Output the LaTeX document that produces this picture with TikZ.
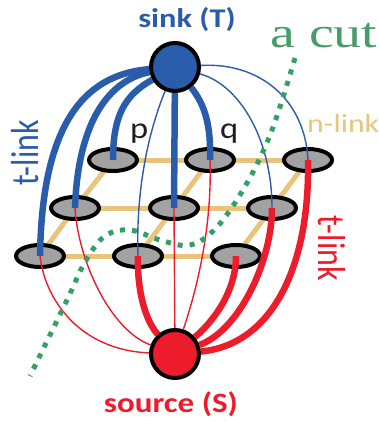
\documentclass[tikz,border=0pt]{standalone}
\usepackage{fontspec}
\setmainfont{Carlito}
\newfontfamily\cutfont{Liberation Serif}
\usetikzlibrary{shapes.geometric}

\definecolor{sinkblue}{RGB}{42,92,172}
\definecolor{srcred}{RGB}{236,28,44}
\definecolor{nlinktan}{RGB}{232,196,124}
\definecolor{cutgreen}{RGB}{52,160,100}
\definecolor{cuttext}{RGB}{72,156,106}
\definecolor{pixgray}{RGB}{162,162,162}
\definecolor{pqtext}{RGB}{30,30,30}

\pgfdeclarelayer{background}
\pgfdeclarelayer{front}
\pgfsetlayers{background,main,front}

\begin{document}
\begin{tikzpicture}[x=1pt,y=-1pt,
  terminal/.style={circle, draw=black, line width=4pt, minimum size=48pt, inner sep=0pt},
  pixel/.style={ellipse, draw=black, line width=4pt, fill=pixgray,
                minimum width=48pt, minimum height=22pt, inner sep=0pt},
  nlink/.style={draw=nlinktan, line width=5pt},
  tthick/.style={line width=6.5pt},
  tthin/.style={line width=1.4pt},
  tosink/.style={draw=sinkblue},
  fromsrc/.style={draw=srcred},
  cutline/.style={draw=cutgreen, line width=5pt, dash pattern=on 5pt off 7pt},
  lbl/.style={inner sep=0pt, anchor=base}]

\useasboundingbox (0,0) rectangle (379,422);

% 3x3 grid of pixels
\node[pixel] (a1) at (113,160) {};
\node[pixel] (a2) at (210,160) {};
\node[pixel] (a3) at (308,160) {};
\node[pixel] (b1) at (75,208) {};
\node[pixel] (b2) at (174,208) {};
\node[pixel] (b3) at (272,208) {};
\node[pixel] (c1) at (40,256) {};
\node[pixel] (c2) at (138,256) {};
\node[pixel] (c3) at (236,256) {};

% terminals
\begin{pgfonlayer}{front}
\node[terminal, fill=sinkblue] (T) at (175,67) {};
\node[terminal, fill=srcred] (S) at (175,354) {};
\end{pgfonlayer}

% n-links between neighbouring pixels
\begin{pgfonlayer}{background}
\draw[nlink] (a1.center) -- (a2.center) -- (a3.center);
\draw[nlink] (b1.center) -- (b2.center) -- (b3.center);
\draw[nlink] (c1.center) -- (c2.center) -- (c3.center);
\draw[nlink] (a1.center) -- (b1.center) -- (c1.center);
\draw[nlink] (a2.center) -- (b2.center) -- (c2.center);
\draw[nlink] (a3.center) -- (b3.center) -- (c3.center);
\end{pgfonlayer}

% t-links to the sink
\draw[tosink, tthick] (T) .. controls (80,75) and (42,130) .. (c1.center);
\draw[tosink, tthick] (T) .. controls (110,80) and (78,120) .. (b1.center);
\draw[tosink, tthick] (T) .. controls (125,95) and (113,115) .. (a1.center);
\draw[tosink, tthin]  (T) .. controls (145,140) and (136,200) .. (c2.center);
\draw[tosink, tthick] (T) -- (b2.center);
\draw[tosink, tthick] (T) .. controls (205,105) and (211,125) .. (a2.center);
\draw[tosink, tthin]  (T) .. controls (240,85) and (272,140) .. (b3.center);
\draw[tosink, tthin]  (T) .. controls (260,62) and (305,100) .. (a3.center);

% t-links from the source
\draw[fromsrc, tthick] (S) .. controls (145,320) and (137,290) .. (c2.center);
\draw[fromsrc, tthin]  (S) -- (b2.center);
\draw[fromsrc, tthin]  (S) .. controls (200,280) and (212,220) .. (a2.center);
\draw[fromsrc, tthick] (S) .. controls (215,320) and (236,290) .. (c3.center);
\draw[fromsrc, tthick] (S) .. controls (240,330) and (272,260) .. (b3.center);
\draw[fromsrc, tthick] (S) .. controls (270,345) and (310,270) .. (a3.center);
\draw[fromsrc, tthin]  (S) .. controls (110,330) and (78,260) .. (b1.center);
\draw[fromsrc, tthin]  (S) .. controls (80,350) and (45,300) .. (c1.center);

% the cut
\draw[cutline] plot[smooth, tension=0.6] coordinates {
  (295,58) (272,130) (247,183) (217,227) (190,245) (160,240)
  (130,230) (105,236) (85,262) (67,300) (30,376)};

% labels
\node[lbl, text=sinkblue, font=\fontsize{27}{27}\selectfont\bfseries] (sinklbl) at (187,28)
  {\scalebox{1.2}[1]{sink (T)}};
\node[lbl, text=srcred, font=\fontsize{28}{28}\selectfont\bfseries] (srclbl) at (171,412)
  {\scalebox{1.18}[1]{source (S)}};
\node[lbl, anchor=base west, text=cuttext, font=\fontsize{43}{43}\selectfont\cutfont] (cutlbl) at (270,48)
  {\scalebox{1.3}[1]{a cut}};
\node[lbl, anchor=base west, text=nlinktan, font=\fontsize{26}{26}\selectfont] (nlbl) at (307,133)
  {\scalebox{1.22}[1]{n-link}};
\node[lbl, rotate=90, text=sinkblue, font=\fontsize{32}{32}\selectfont] (tlblL) at (38,153)
  {\scalebox{1}[1.22]{t-link}};
\node[lbl, rotate=-90, text=srcred, font=\fontsize{32}{32}\selectfont] (tlblR) at (318,248)
  {\scalebox{1}[1.22]{t-link}};
\node[lbl, anchor=base west, text=pqtext, font=\fontsize{30}{30}\selectfont] (plbl) at (130,139)
  {\scalebox{1.15}[1]{p}};
\node[lbl, anchor=base west, text=pqtext, font=\fontsize{30}{30}\selectfont] (qlbl) at (220,139)
  {\scalebox{1.15}[1]{q}};
\end{tikzpicture}
\end{document}
